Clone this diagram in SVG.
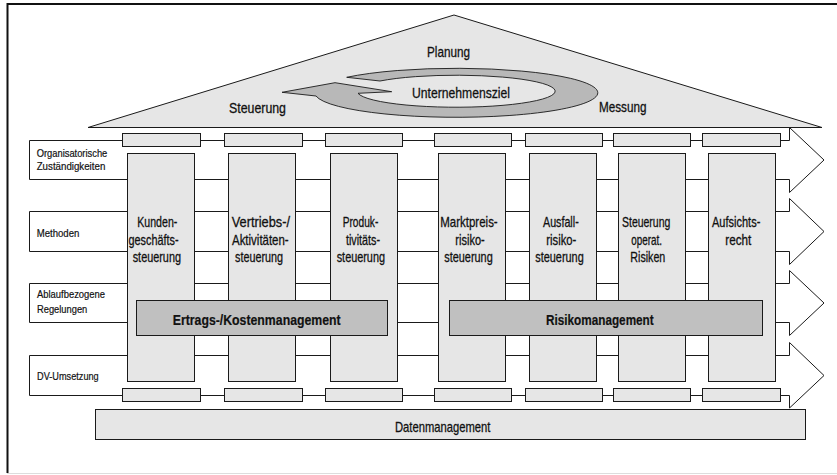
<svg xmlns="http://www.w3.org/2000/svg" width="837" height="475" viewBox="0 0 837 475">
<style>
  .band{fill:#ffffff;stroke:#1a1a1a;stroke-width:1}
  .lt{fill:#e6e6e6;stroke:#1a1a1a;stroke-width:1}
  .bar{fill:#c0c0c0;stroke:#1a1a1a;stroke-width:1}
  .ring{fill:#b8b8b8;stroke:#1a1a1a;stroke-width:0.9}
  text{font-family:"Liberation Sans Narrow","Liberation Sans",Arial,sans-serif;fill:#111;stroke:#111;stroke-width:0.3}
  .roof{font-size:15px}
  .side{font-size:10.5px;stroke-width:0.2}
  .pil{font-size:14.5px}
  .bold{font-size:15px;font-weight:bold;stroke-width:0.2}
  .dm{font-size:14.5px}
</style>
<rect x="0" y="0" width="837" height="475" fill="#ffffff"/>
<g id="frame">
  <line x1="7" y1="4" x2="837" y2="4" stroke="#111" stroke-width="2"/>
  <line x1="7.5" y1="3" x2="7.5" y2="473" stroke="#111" stroke-width="2"/>
  <line x1="7" y1="473.5" x2="837" y2="473.5" stroke="#dddddd" stroke-width="1"/>
</g>

<g id="roof">
  <polygon class="lt" points="88,127.5 454,15 822,127.5"/>
  <text class="roof" x="427" y="57" textLength="43" lengthAdjust="spacingAndGlyphs">Planung</text>
  <text class="roof" x="229" y="113" textLength="57" lengthAdjust="spacingAndGlyphs">Steuerung</text>
  <text class="roof" x="599" y="112" textLength="47.5" lengthAdjust="spacingAndGlyphs">Messung</text>
</g>
<g id="zielkreis">
  <path class="ring" d="M 346.7 77.3 A 141.5 24.5 0 1 1 316 96 L 282 92.3 L 335 82.7 L 391.7 91.7 L 358 93.3 A 99 16 0 1 0 380 81 Z"/>
  <text class="roof" x="412" y="98" textLength="98" lengthAdjust="spacingAndGlyphs">Unternehmensziel</text>
</g>

<g id="connectors">
  <polygon id="band-org" class="band" points="29.5,140.5 789.5,140.5 789.5,127.5 824,160 789.5,192.5 789.5,179.5 29.5,179.5"/>
  <polygon id="band-meth" class="band" points="29.5,211.5 789.5,211.5 789.5,198.5 824,231.5 789.5,264.5 789.5,251.5 29.5,251.5"/>
  <polygon id="band-ablauf" class="band" points="29.5,283.5 789.5,283.5 789.5,270.5 824,303 789.5,335.5 789.5,322.5 29.5,322.5"/>
  <polygon id="band-dv" class="band" points="29.5,355.5 789.5,355.5 789.5,342.5 824,375.5 789.5,408 789.5,395.5 29.5,395.5"/>
</g>

<g id="label-org">
  <text class="side" x="36.7" y="157" textLength="70.6" lengthAdjust="spacingAndGlyphs">Organisatorische</text>
  <text class="side" x="36.7" y="170" textLength="68.6" lengthAdjust="spacingAndGlyphs">Zuständigkeiten</text>
</g>
<g id="label-meth">
  <text class="side" x="36.7" y="237" textLength="42.6" lengthAdjust="spacingAndGlyphs">Methoden</text>
</g>
<g id="label-ablauf">
  <text class="side" x="37" y="298" textLength="68" lengthAdjust="spacingAndGlyphs">Ablaufbezogene</text>
  <text class="side" x="37" y="313" textLength="50.3" lengthAdjust="spacingAndGlyphs">Regelungen</text>
</g>
<g id="label-dv">
  <text class="side" x="37" y="380" textLength="61.7" lengthAdjust="spacingAndGlyphs">DV-Umsetzung</text>
</g>

<g id="kapitelle">
  <rect class="lt" x="122.5" y="133.5" width="78" height="13"/>
  <rect class="lt" x="224.5" y="133.5" width="78" height="13"/>
  <rect class="lt" x="325.5" y="133.5" width="77" height="13"/>
  <rect class="lt" x="434.5" y="133.5" width="77" height="13"/>
  <rect class="lt" x="525.5" y="133.5" width="77" height="13"/>
  <rect class="lt" x="613.5" y="133.5" width="77" height="13"/>
  <rect class="lt" x="702.5" y="133.5" width="78" height="13"/>
</g>
<g id="sockel">
  <rect class="lt" x="122.5" y="388.5" width="78" height="13"/>
  <rect class="lt" x="224.5" y="388.5" width="78" height="13"/>
  <rect class="lt" x="325.5" y="388.5" width="77" height="13"/>
  <rect class="lt" x="434.5" y="388.5" width="77" height="13"/>
  <rect class="lt" x="525.5" y="388.5" width="77" height="13"/>
  <rect class="lt" x="613.5" y="388.5" width="77" height="13"/>
  <rect class="lt" x="702.5" y="388.5" width="78" height="13"/>
</g>

<g id="p-kunden">
  <rect class="lt" x="127.5" y="153.5" width="67" height="228"/>
  <text class="pil" x="137.3" y="227" textLength="40" lengthAdjust="spacingAndGlyphs">Kunden-</text>
  <text class="pil" x="128.5" y="244.7" textLength="50" lengthAdjust="spacingAndGlyphs">geschäfts-</text>
  <text class="pil" x="132.7" y="262.4" textLength="48.3" lengthAdjust="spacingAndGlyphs">steuerung</text>
</g>
<g id="p-vertrieb">
  <rect class="lt" x="228.5" y="153.5" width="67" height="228"/>
  <text class="pil" x="231.7" y="227" textLength="58.3" lengthAdjust="spacingAndGlyphs">Vertriebs-/</text>
  <text class="pil" x="232" y="244.7" textLength="56.7" lengthAdjust="spacingAndGlyphs">Aktivitäten-</text>
  <text class="pil" x="235" y="262.4" textLength="48" lengthAdjust="spacingAndGlyphs">steuerung</text>
</g>
<g id="p-produkt">
  <rect class="lt" x="330.5" y="153.5" width="67" height="228"/>
  <text class="pil" x="342.7" y="227" textLength="35.6" lengthAdjust="spacingAndGlyphs">Produk-</text>
  <text class="pil" x="346" y="244.7" textLength="34" lengthAdjust="spacingAndGlyphs">tivitäts-</text>
  <text class="pil" x="336.7" y="262.4" textLength="48.3" lengthAdjust="spacingAndGlyphs">steuerung</text>
</g>
<g id="p-marktpreis">
  <rect class="lt" x="438.5" y="153.5" width="67" height="228"/>
  <text class="pil" x="440.3" y="227" textLength="57.4" lengthAdjust="spacingAndGlyphs">Marktpreis-</text>
  <text class="pil" x="455.3" y="244.7" textLength="29.4" lengthAdjust="spacingAndGlyphs">risiko-</text>
  <text class="pil" x="444.3" y="262.4" textLength="48.4" lengthAdjust="spacingAndGlyphs">steuerung</text>
</g>
<g id="p-ausfall">
  <rect class="lt" x="529.5" y="153.5" width="67" height="228"/>
  <text class="pil" x="543" y="227" textLength="35.7" lengthAdjust="spacingAndGlyphs">Ausfall-</text>
  <text class="pil" x="546.3" y="244.7" textLength="30" lengthAdjust="spacingAndGlyphs">risiko-</text>
  <text class="pil" x="535.3" y="262.4" textLength="48.4" lengthAdjust="spacingAndGlyphs">steuerung</text>
</g>
<g id="p-operat">
  <rect class="lt" x="618.5" y="153.5" width="67" height="228"/>
  <text class="pil" x="622" y="227" textLength="48.3" lengthAdjust="spacingAndGlyphs">Steuerung</text>
  <text class="pil" x="631.3" y="244.7" textLength="30.7" lengthAdjust="spacingAndGlyphs">operat.</text>
  <text class="pil" x="630.3" y="262.4" textLength="35" lengthAdjust="spacingAndGlyphs">Risiken</text>
</g>
<g id="p-aufsicht">
  <rect class="lt" x="708.5" y="153.5" width="67" height="228"/>
  <text class="pil" x="712" y="227" textLength="48.3" lengthAdjust="spacingAndGlyphs">Aufsichts-</text>
  <text class="pil" x="725.3" y="244.7" textLength="26" lengthAdjust="spacingAndGlyphs">recht</text>
</g>

<g id="ertrag">
  <rect class="bar" x="136.5" y="300.5" width="251" height="35"/>
  <text class="bold" x="172.7" y="325" textLength="168" lengthAdjust="spacingAndGlyphs">Ertrags-/Kostenmanagement</text>
</g>
<g id="risiko">
  <rect class="bar" x="449.5" y="300.5" width="313" height="35"/>
  <text class="bold" x="546" y="325" textLength="107.7" lengthAdjust="spacingAndGlyphs">Risikomanagement</text>
</g>
<g id="daten">
  <rect class="lt" x="95.5" y="409.5" width="710" height="30"/>
  <text class="dm" x="395" y="431.7" textLength="95.3" lengthAdjust="spacingAndGlyphs">Datenmanagement</text>
</g>
</svg>
